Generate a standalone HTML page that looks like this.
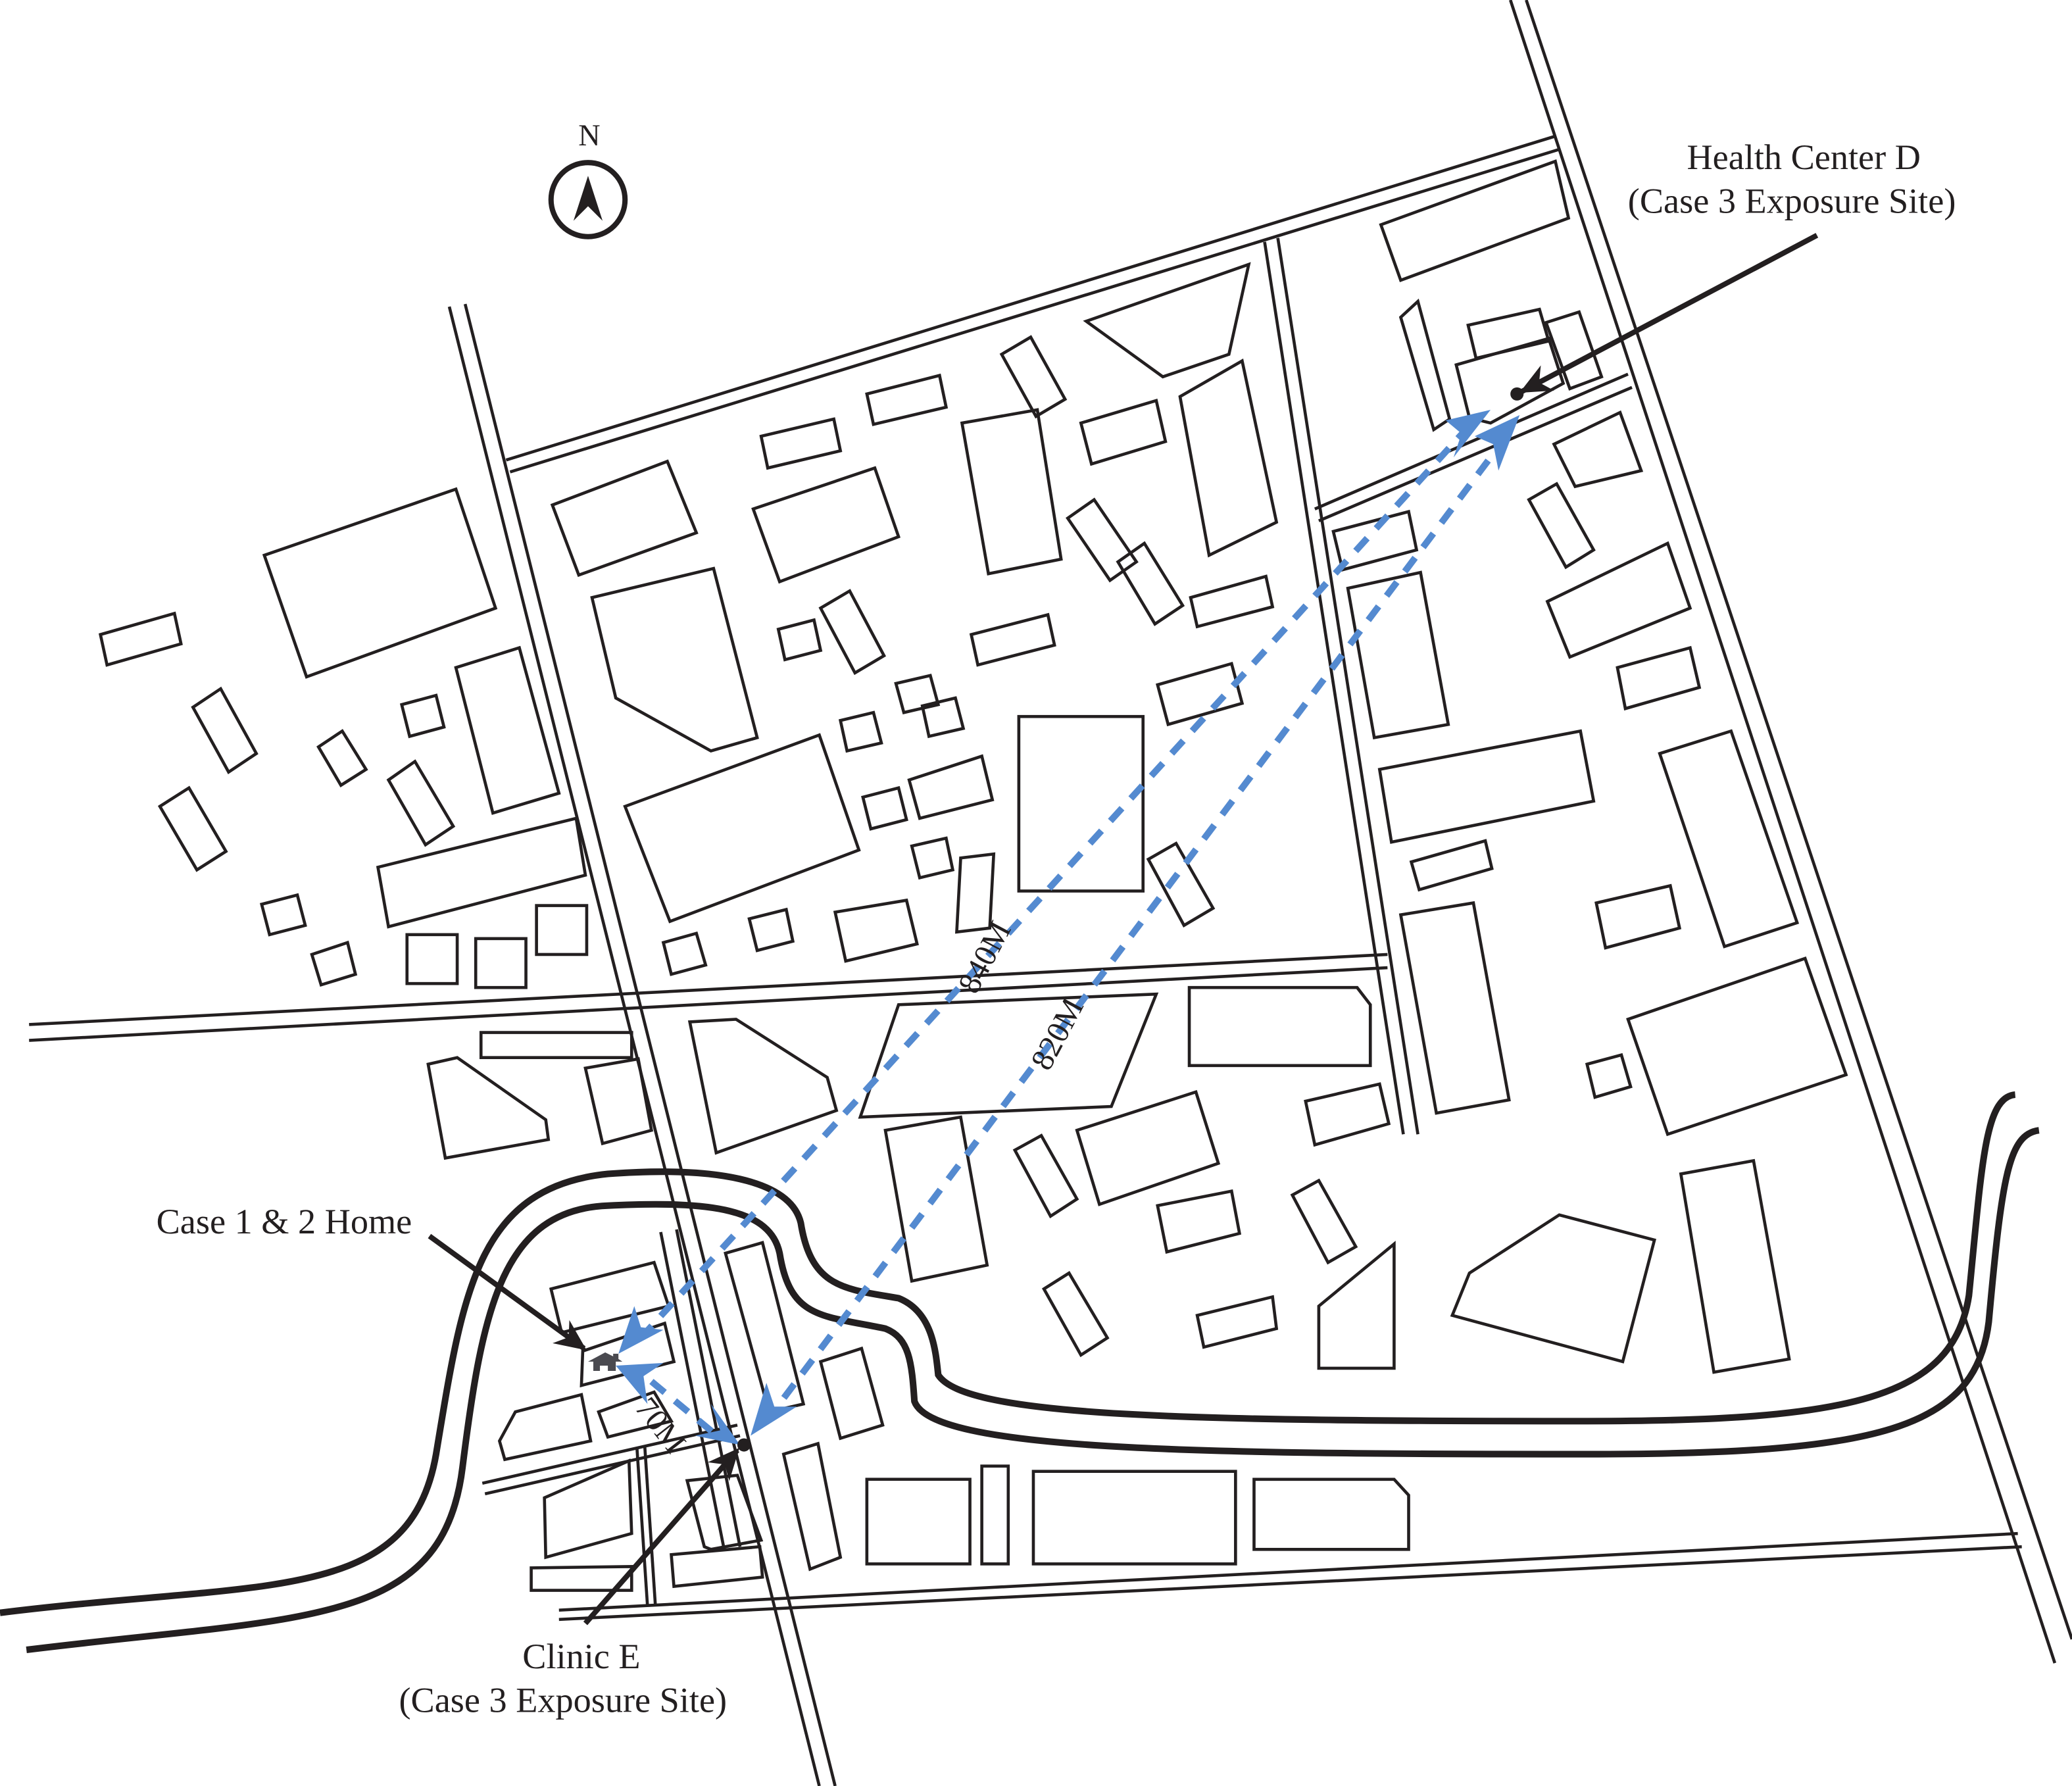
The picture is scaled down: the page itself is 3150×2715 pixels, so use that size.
<!DOCTYPE html>
<html><head><meta charset="utf-8"><style>
html,body{margin:0;padding:0;background:#fff;}
svg{display:block;}
text{font-family:"Liberation Serif",serif;fill:#231f20;}
</style></head><body>
<svg width="3150" height="2715" viewBox="0 0 1568 1351" preserveAspectRatio="none" xmlns="http://www.w3.org/2000/svg">
<defs>
<marker id="bk" viewBox="0 0 20 20" refX="18" refY="10" markerWidth="24" markerHeight="24" orient="auto" markerUnits="userSpaceOnUse"><path d="M0,1 L20,10 L0,19 L6,10z" fill="#231f20"/></marker>
</defs>
<g fill="none" stroke="#231f20" stroke-width="2.3">
<line x1="340" y1="232" x2="620" y2="1351"/><line x1="352" y1="230" x2="632" y2="1351"/>
<line x1="1143" y1="0" x2="1555" y2="1258"/><line x1="1155" y1="0" x2="1568" y2="1240"/>
<line x1="383" y1="348" x2="1177" y2="103"/><line x1="386" y1="357" x2="1180" y2="113"/>
<line x1="957" y1="183" x2="1062" y2="858"/><line x1="967" y1="180" x2="1073" y2="858"/>
<line x1="22" y1="775" x2="1050" y2="722"/><line x1="22" y1="787" x2="1050" y2="732"/>
<line x1="995" y1="385" x2="1232" y2="283"/><line x1="998" y1="394" x2="1235" y2="293"/>
<line x1="423" y1="1218" x2="1527" y2="1160"/><line x1="423" y1="1225" x2="1530" y2="1170"/>
<line x1="365" y1="1122" x2="558" y2="1078"/><line x1="367" y1="1130" x2="560" y2="1086"/>
<line x1="488" y1="1095" x2="496" y2="1215"/><line x1="482" y1="1095" x2="490" y2="1215"/>
<line x1="500" y1="932" x2="548" y2="1172"/><line x1="512" y1="930" x2="560" y2="1170"/>
<polygon points="76,480 132,464 137,487 81,503"/>
<polygon points="200,420 345,370 375,460 232,512"/>
<polygon points="146,535 167,521 194,570 173,584"/>
<polygon points="121,610 143,596 171,644 149,658"/>
<polygon points="241,565 259,553 277,582 258,594"/>
<polygon points="304,533 330,526 336,550 310,557"/>
<polygon points="294,590 314,576 343,625 322,639"/>
<polygon points="345,505 393,490 423,600 373,615"/>
<polygon points="286,656 436,619 443,662 294,701"/>
<polygon points="198,684 225,677 231,700 204,707"/>
<polygon points="236,722 263,713 269,737 243,745"/>
<rect x="308" y="707" width="38" height="37"/>
<rect x="360" y="710" width="38" height="37"/>
<rect x="406" y="685" width="38" height="37"/>
<polygon points="418,382 505,349 527,403 438,435"/>
<polygon points="448,452 540,430 573,558 538,568 466,528"/>
<polygon points="473,610 620,556 650,643 507,697"/>
<polygon points="502,713 527,706 534,730 508,737"/>
<polygon points="567,695 595,688 600,712 573,719"/>
<polygon points="632,690 686,681 694,714 640,727"/>
<polygon points="576,330 631,317 636,341 581,354"/>
<polygon points="570,385 662,354 680,406 590,440"/>
<polygon points="589,476 616,469 621,492 594,499"/>
<polygon points="621,460 643,447 669,496 647,509"/>
<polygon points="636,545 661,539 667,562 641,568"/>
<polygon points="653,603 680,596 686,620 659,627"/>
<polygon points="678,517 704,511 710,533 684,539"/>
<polygon points="698,534 723,528 729,551 703,557"/>
<polygon points="688,590 743,572 751,605 696,619"/>
<polygon points="690,640 716,634 721,658 696,664"/>
<polygon points="727,649 752,646 749,702 724,705"/>
<polygon points="656,298 711,284 716,308 661,321"/>
<polygon points="758,268 780,255 806,302 784,315"/>
<polygon points="728,320 785,310 803,423 748,434"/>
<polygon points="735,480 793,465 798,488 740,503"/>
<polygon points="822,243 945,200 930,268 880,285"/>
<polygon points="818,320 875,303 882,334 826,351"/>
<polygon points="808,392 828,378 860,425 840,439"/>
<polygon points="846,425 866,411 895,458 874,472"/>
<polygon points="893,300 940,273 966,395 915,420"/>
<polygon points="901,452 958,436 963,459 906,474"/>
<polygon points="876,518 932,502 940,532 884,548"/>
<rect x="771" y="542" width="94" height="132"/>
<polygon points="869,650 890,638 918,687 896,700"/>
<polygon points="1045,170 1177,122 1187,165 1060,212"/>
<polygon points="1060,240 1073,228 1097,317 1085,325"/>
<polygon points="1111,246 1165,234 1172,258 1117,271"/>
<polygon points="1102,276 1172,256 1183,290 1128,320 1112,316"/>
<polygon points="1170,244 1195,236 1212,285 1188,294"/>
<polygon points="1009,402 1066,387 1072,416 1016,431"/>
<polygon points="1020,445 1075,433 1096,548 1040,558"/>
<polygon points="1176,336 1226,312 1242,356 1192,368"/>
<polygon points="1157,378 1178,366 1206,416 1185,429"/>
<polygon points="1171,455 1262,411 1279,460 1188,497"/>
<polygon points="1224,505 1279,490 1286,520 1230,536"/>
<polygon points="1044,582 1196,553 1206,606 1053,637"/>
<polygon points="1068,652 1124,636 1129,657 1074,673"/>
<polygon points="1256,570 1310,553 1360,698 1305,716"/>
<polygon points="1060,692 1115,683 1142,832 1087,842"/>
<polygon points="1208,683 1264,670 1271,702 1215,717"/>
<polygon points="1232,771 1366,725 1397,813 1262,858"/>
<polygon points="1201,805 1227,798 1234,822 1207,830"/>
<polygon points="680,760 875,752 841,837 651,845"/>
<polygon points="900,747 1027,747 1037,760 1037,806 900,806"/>
<polygon points="988,833 1044,820 1051,850 995,866"/>
<polygon points="815,855 905,826 922,880 832,911"/>
<polygon points="768,870 788,859 815,907 795,920"/>
<polygon points="876,912 932,901 938,933 883,947"/>
<polygon points="978,904 998,893 1026,943 1005,955"/>
<polygon points="998,988 1055,941 1055,1035 998,1035"/>
<polygon points="1099,995 1112,963 1180,919 1252,938 1228,1030"/>
<polygon points="1272,888 1327,878 1354,1028 1297,1038"/>
<polygon points="790,975 809,963 838,1012 818,1025"/>
<polygon points="906,995 963,981 966,1005 911,1019"/>
<polygon points="670,855 727,845 747,957 690,969"/>
<polygon points="522,773 557,771 626,815 633,840 542,872"/>
<polygon points="364,781 478,781 478,800 364,800"/>
<polygon points="324,805 346,800 413,847 415,862 337,876"/>
<polygon points="443,808 483,801 493,855 456,865"/>
<polygon points="621,1030 652,1020 668,1078 636,1088"/>
<polygon points="593,1100 619,1092 636,1178 613,1187"/>
<rect x="656" y="1119" width="78" height="64"/>
<rect x="743" y="1109" width="20" height="74"/>
<rect x="782" y="1113" width="153" height="70"/>
<polygon points="949,1119 1055,1119 1066,1131 1066,1172 949,1172"/>
<polygon points="549,948 577,940 608,1062 582,1068"/>
<polygon points="520,1120 558,1116 576,1165 538,1172 533,1170"/>
<polygon points="508,1176 575,1170 577,1193 510,1200"/>
<polygon points="402,1186 478,1185 478,1203 402,1203"/>
<polygon points="412,1133 476,1105 478,1160 413,1178"/>
<polygon points="378,1090 390,1068 440,1055 447,1090 382,1104"/>
<polygon points="417,975 495,955 506,988 425,1008"/>
<polygon points="441,1022 503,1001 510,1030 440,1048"/>
<polygon points="453,1068 495,1053 508,1075 460,1087"/>
</g>
<g fill="none" stroke="#231f20" stroke-width="5">
<path d="M0,1220 C200,1195 310,1215 330,1100 C350,980 360,898 460,888 C540,882 598,892 606,925 C614,975 640,975 680,982 C705,992 708,1020 710,1040 C730,1072 900,1075 1200,1075 C1400,1075 1478,1058 1490,980 C1500,880 1502,830 1525,828"/>
<path d="M20,1248 C230,1222 335,1232 350,1110 C365,990 380,915 460,912 C540,908 583,915 590,948 C598,998 622,995 670,1005 C688,1012 690,1030 692,1060 C705,1097 900,1100 1200,1100 C1420,1100 1495,1082 1505,1000 C1515,890 1520,858 1543,855"/>
</g>
<g stroke="#548ad0" stroke-width="5" fill="none" stroke-dasharray="13,10">
<line x1="1112" y1="322" x2="485" y2="1012"/>
<line x1="1140" y1="330" x2="580" y2="1075"/>
<line x1="493" y1="1045" x2="545" y2="1088"/>
</g>
<g fill="#548ad0">
<polygon points="1128,310 1094,318 1106,328 1100,346"/>
<polygon points="1150,314 1116,330 1130,336 1134,356"/>
<polygon points="468,1024 480,988 485,1004 502,1006"/>
<polygon points="568,1086 580,1046 586,1064 603,1064"/>
<polygon points="466,1033 502,1031 487,1041 490,1062"/>
<polygon points="560,1093 526,1086 545,1082 538,1062"/>
</g>
<path d="M445,1030 L458,1023 L464,1026 L464,1024 L468,1024 L468,1028 L471,1030 L466,1030 L466,1037 L460,1037 L460,1033 L454,1033 L454,1037 L449,1037 L449,1030z" fill="#4a4a50"/>
<g stroke="#231f20" stroke-width="4" fill="none">
<line x1="1375" y1="178" x2="1152" y2="296" marker-end="url(#bk)"/>
<line x1="325" y1="935" x2="442" y2="1020" marker-end="url(#bk)"/>
<line x1="443" y1="1228" x2="558" y2="1097" marker-end="url(#bk)"/>
</g>
<circle cx="1148" cy="298" r="5" fill="#231f20"/>
<circle cx="563" cy="1093" r="5" fill="#231f20"/>
<circle cx="445" cy="151" r="28" fill="none" stroke="#231f20" stroke-width="4"/>
<polygon points="445,133 434,167 445,156 456,167" fill="#231f20"/>
<text x="446" y="110" font-size="23" text-anchor="middle">N</text>
<g font-size="27">
<text x="1365" y="128" text-anchor="middle">Health Center D</text>
<text x="1356" y="161" text-anchor="middle">(Case 3 Exposure Site)</text>
<text x="215" y="933" text-anchor="middle">Case 1 &amp; 2 Home</text>
<text x="440" y="1262" text-anchor="middle">Clinic E</text>
<text x="426" y="1295" text-anchor="middle">(Case 3 Exposure Site)</text>
</g>
<g font-size="24">
<text transform="translate(745,724) rotate(-62)" text-anchor="middle" dy="8">840M</text>
<text transform="translate(800,782) rotate(-62)" text-anchor="middle" dy="8">820M</text>
<text transform="translate(500,1078) rotate(52)" text-anchor="middle" dy="8">70M</text>
</g>
</svg>
</body></html>
